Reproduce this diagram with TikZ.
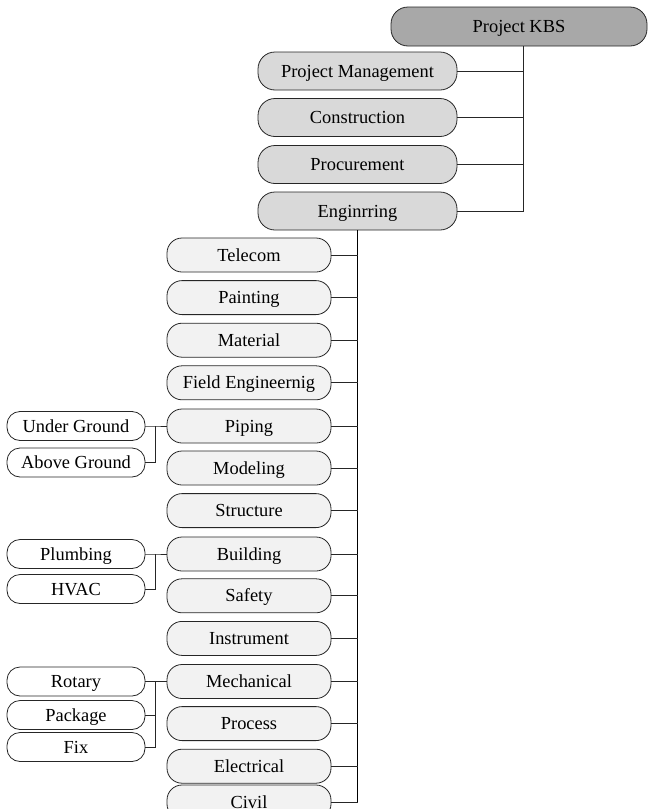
\documentclass[tikz,border=0pt]{standalone}
\usepackage{fontspec}
\setmainfont{Liberation Serif}
\usetikzlibrary{calc}
\definecolor{kbsgray}{HTML}{A8A8A8}
\definecolor{lonegray}{HTML}{D9D9D9}
\definecolor{ltwogray}{HTML}{F2F2F2}
\begin{document}
\begin{tikzpicture}[x=1pt,y=-1pt,
  base/.style={draw=black!85, line width=0.8pt, inner sep=0pt, anchor=center,
    font=\fontsize{18.4}{20}\selectfont, text height=14pt, text depth=1.8pt},
  topbox/.style={base, fill=kbsgray, minimum width=256pt, minimum height=39pt, rounded corners=17pt},
  lonebox/.style={base, fill=lonegray, minimum width=199pt, minimum height=38pt, rounded corners=17pt},
  ltwobox/.style={base, fill=ltwogray, minimum width=164pt, minimum height=34pt, rounded corners=15pt},
  leafbox/.style={base, fill=white, minimum width=138pt, minimum height=29pt, rounded corners=13pt},
  conn/.style={line width=0.8pt, draw=black!85},
  trunk/.style={line width=1.8pt, draw=black}]
\useasboundingbox (0,0) rectangle (648,809);

% top
\node[topbox] (kbs) at (519,26.5) {Project KBS};
\coordinate (ktrunk) at (523,46);

% level 1
\node[lonebox] (pm)  at (357.5,71)   {Project Management};
\node[lonebox] (con) at (357.5,117.5) {Construction};
\node[lonebox] (pro) at (357.5,164.5) {Procurement};
\node[lonebox] (eng) at (357.5,211)   {Enginrring};

\draw[conn] (ktrunk) -- (ktrunk |- eng.east) -- (eng.east);
\foreach \n in {pm,con,pro} \draw[conn] (\n.east) -- (\n.east -| ktrunk);

% level 2
\node[ltwobox] (tel)  at (249,255)   {Telecom};
\node[ltwobox] (pai)  at (249,297.6) {Painting};
\node[ltwobox] (mat)  at (249,340.2) {Material};
\node[ltwobox] (fie)  at (249,382.8) {Field Engineernig};
\node[ltwobox] (pip)  at (249,426)   {Piping};
\node[ltwobox] (mod)  at (249,468)   {Modeling};
\node[ltwobox] (str)  at (249,510.6) {Structure};
\node[ltwobox] (bui)  at (249,554)   {Building};
\node[ltwobox] (saf)  at (249,595.8) {Safety};
\node[ltwobox] (ins)  at (249,638.4) {Instrument};
\node[ltwobox] (mec)  at (249,681.5) {Mechanical};
\node[ltwobox] (prc)  at (249,723.6) {Process};
\node[ltwobox] (ele)  at (249,766.2) {Electrical};
\node[ltwobox] (civ)  at (249,802)   {Civil};

\draw[trunk] (eng.south) -- (eng.south |- civ.east);
\foreach \n in {tel,pai,mat,fie,pip,mod,str,bui,saf,ins,mec,prc,ele,civ}
  \draw[conn] (\n.east) -- (\n.east -| eng.south);

% leaves
\node[leafbox] (ug)  at (76,426)   {Under Ground};
\node[leafbox] (ag)  at (76,462.5) {Above Ground};
\node[leafbox] (plu) at (76,554)   {Plumbing};
\node[leafbox] (hva) at (76,589)   {HVAC};
\node[leafbox] (rot) at (76,681.5) {Rotary};
\node[leafbox] (pac) at (76,715)   {Package};
\node[leafbox] (fix) at (76,747)   {Fix};

\coordinate (pbus) at (155,426);
\coordinate (bbus) at (155,554);
\coordinate (mbus) at (155,681.5);

\draw[conn] (ug.east) -- (pbus) -- (pip.west);
\draw[conn] (ag.east) -| (pbus);
\draw[conn] (plu.east) -- (bbus) -- (bui.west);
\draw[conn] (hva.east) -| (bbus);
\draw[conn] (rot.east) -- (mbus) -- (mec.west);
\draw[conn] (pac.east) -| (mbus);
\draw[conn] (fix.east) -| (mbus);
\end{tikzpicture}
\end{document}
